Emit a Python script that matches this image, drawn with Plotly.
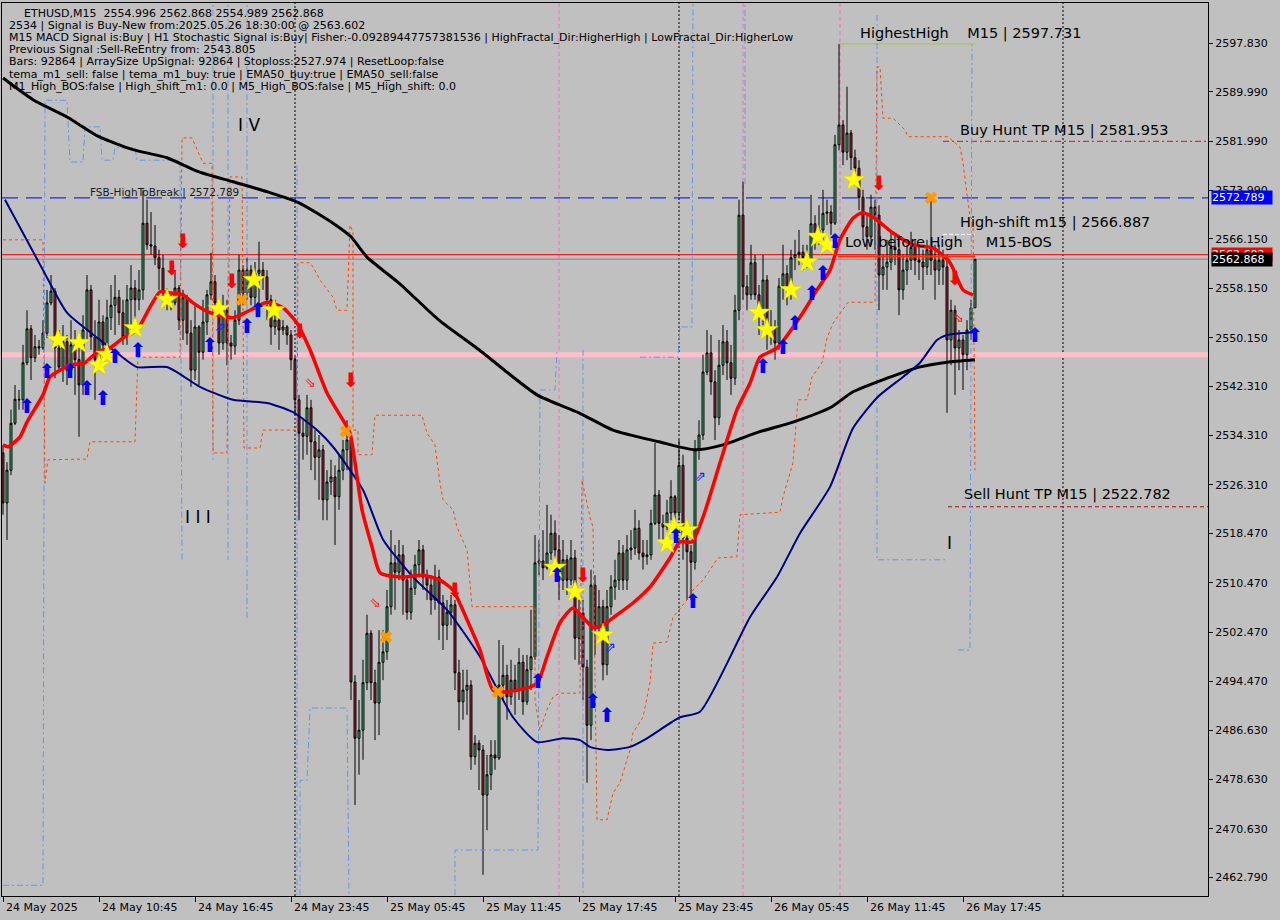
import plotly.graph_objects as go

# ---------------- data ----------------
tick_bars = [0, 24, 48, 72, 96, 120, 144, 168, 192, 216, 240]
tick_labels = ["24 May 2025", "24 May 10:45", "24 May 16:45", "24 May 23:45", "25 May 05:45",
               "25 May 11:45", "25 May 17:45", "25 May 23:45", "26 May 05:45", "26 May 11:45",
               "26 May 17:45"]
price_ticks = [2597.830, 2589.990, 2581.990, 2573.990, 2566.150, 2558.150, 2550.150, 2542.310,
               2534.310, 2526.310, 2518.470, 2510.470, 2502.470, 2494.470, 2486.630, 2478.630,
               2470.630, 2462.790]

first_open = 2531.5
close = [
    2523.4, 2528.7, 2536.3, 2540.2, 2540.1, 2546.1, 2551.6, 2546.9, 2548.7, 2548.5,
    2550.9, 2555.8, 2557.7, 2548.5, 2545.4, 2549.5, 2544.9, 2549.0, 2546.6, 2542.5,
    2551.4, 2557.9, 2550.3, 2546.6, 2552.7, 2549.0, 2553.4, 2555.4, 2556.7, 2554.2,
    2550.3, 2556.3, 2558.2, 2556.3, 2557.9, 2568.7, 2565.2, 2565.0, 2563.1, 2561.4,
    2557.4, 2556.3, 2555.8, 2558.2, 2553.0, 2556.7, 2550.9, 2544.9, 2551.9, 2547.8,
    2552.7, 2557.1, 2559.2, 2555.8, 2549.3, 2554.6, 2549.3, 2548.8, 2553.0, 2561.1,
    2557.4, 2561.1, 2556.7, 2560.6, 2561.1, 2560.0, 2556.3, 2551.9, 2553.0, 2551.4,
    2551.9, 2550.6, 2546.6, 2540.1, 2534.7, 2534.2, 2538.8, 2533.3, 2530.8, 2532.0,
    2523.9, 2526.8, 2527.6, 2524.4, 2528.7, 2532.0, 2533.6, 2494.4, 2485.3, 2486.6,
    2494.3, 2502.3, 2494.3, 2491.0, 2497.6, 2499.3, 2506.6, 2513.7, 2512.2, 2515.0,
    2510.9, 2505.7, 2509.6, 2513.4, 2515.8, 2511.4, 2510.1, 2507.7, 2511.4, 2507.2,
    2503.6, 2505.7, 2506.9, 2495.9, 2491.2, 2493.1, 2493.9, 2482.3, 2484.5, 2483.4,
    2476.1, 2479.4, 2482.6, 2482.1, 2493.9, 2495.5, 2492.0, 2494.7, 2493.1, 2497.6,
    2491.2, 2496.4, 2498.5, 2513.7, 2514.0, 2512.9, 2515.3, 2518.5, 2515.8, 2510.9,
    2514.2, 2510.9, 2514.5, 2501.5, 2505.6, 2496.8, 2487.4, 2510.1, 2503.2, 2506.6,
    2497.2, 2506.6, 2509.8, 2510.9, 2515.3, 2510.9, 2515.8, 2516.1, 2519.3, 2515.3,
    2514.7, 2515.0, 2520.1, 2524.7, 2520.1, 2519.5, 2521.8, 2524.4, 2521.8, 2529.5,
    2517.7, 2515.5, 2513.8, 2532.0, 2534.4, 2544.6, 2547.7, 2543.0, 2537.2, 2545.7,
    2549.5, 2546.1, 2543.6, 2554.6, 2570.0, 2558.4, 2557.1, 2562.3, 2557.1, 2553.4,
    2559.5, 2550.6, 2551.9, 2549.3, 2558.5, 2560.5, 2558.4, 2563.1, 2563.6, 2564.0,
    2563.1, 2562.7, 2568.6, 2566.5, 2567.6, 2570.3, 2570.5, 2568.7, 2581.4, 2584.6,
    2580.2, 2583.3, 2579.3, 2577.6, 2572.9, 2568.1, 2566.5, 2571.3, 2570.0, 2560.3,
    2561.6, 2562.4, 2564.8, 2564.4, 2557.9, 2561.1, 2562.7, 2564.8, 2562.7, 2562.4,
    2561.6, 2564.4, 2562.7, 2561.1, 2562.7, 2561.6, 2549.8, 2554.6, 2548.5, 2549.8,
    2547.4, 2551.4, 2554.996, 2562.868]
high = [
    2532.8, 2530.0, 2538.5, 2542.5, 2541.7, 2549.0, 2554.6, 2552.2, 2550.6, 2549.8,
    2553.0, 2557.9, 2560.3, 2558.2, 2551.4, 2552.2, 2550.6, 2553.0, 2551.4, 2550.6,
    2553.8, 2560.3, 2558.7, 2553.0, 2556.3, 2553.8, 2556.3, 2558.7, 2560.3, 2557.9,
    2556.3, 2558.7, 2561.9, 2559.5, 2561.1, 2574.1, 2572.5, 2570.5, 2568.4, 2564.4,
    2563.6, 2558.2, 2557.1, 2561.1, 2558.7, 2557.9, 2557.1, 2553.0, 2555.4, 2552.2,
    2556.3, 2557.9, 2563.9, 2560.3, 2556.3, 2557.1, 2556.3, 2550.6, 2554.6, 2563.6,
    2561.9, 2563.1, 2561.9, 2562.4, 2565.7, 2562.4, 2561.1, 2557.1, 2556.3, 2553.8,
    2553.0, 2552.2, 2551.4, 2547.4, 2540.9, 2536.8, 2540.9, 2540.1, 2535.2, 2534.4,
    2532.8, 2528.7, 2530.4, 2529.5, 2531.2, 2533.6, 2536.8, 2533.6, 2495.5, 2491.5,
    2498.0, 2505.3, 2502.8, 2496.4, 2502.8, 2502.8, 2509.3, 2519.0, 2516.6, 2517.4,
    2516.6, 2511.7, 2512.6, 2515.0, 2517.4, 2516.6, 2512.6, 2511.7, 2513.4, 2512.6,
    2508.5, 2507.7, 2508.5, 2507.7, 2498.0, 2496.4, 2496.4, 2494.7, 2485.8, 2485.0,
    2484.2, 2482.6, 2485.0, 2485.0, 2501.2, 2500.4, 2497.2, 2498.0, 2497.2, 2499.9,
    2498.8, 2498.8, 2506.1, 2518.2, 2517.4, 2519.0, 2523.1, 2521.5, 2520.6, 2518.2,
    2517.4, 2515.0, 2517.4, 2515.8, 2507.7, 2507.7, 2498.0, 2512.6, 2511.7, 2509.3,
    2507.7, 2509.3, 2511.7, 2514.2, 2517.4, 2516.6, 2518.2, 2519.0, 2522.3, 2520.6,
    2517.4, 2517.4, 2522.3, 2533.1, 2525.5, 2521.5, 2523.9, 2527.1, 2524.7, 2533.6,
    2531.2, 2519.0, 2516.6, 2533.6, 2536.8, 2547.4, 2551.4, 2550.6, 2544.9, 2549.8,
    2552.2, 2551.4, 2549.0, 2557.1, 2572.5, 2575.4, 2560.3, 2565.2, 2563.6, 2558.7,
    2563.6, 2560.3, 2554.6, 2553.0, 2559.8, 2565.2, 2561.9, 2564.4, 2566.0, 2567.6,
    2565.2, 2565.2, 2573.3, 2570.0, 2571.6, 2574.1, 2572.5, 2571.6, 2583.0, 2597.731,
    2585.4, 2590.8, 2583.8, 2580.6, 2578.9, 2574.1, 2570.0, 2573.3, 2572.5, 2571.6,
    2563.6, 2566.0, 2567.6, 2566.8, 2566.0, 2563.6, 2565.2, 2567.3, 2566.0, 2565.2,
    2564.4, 2566.0, 2572.8, 2565.2, 2565.2, 2564.4, 2563.6, 2556.3, 2555.4, 2551.4,
    2550.6, 2553.0, 2556.3, 2562.868]
low = [
    2521.5, 2517.4, 2527.9, 2536.0, 2538.5, 2538.5, 2545.7, 2543.3, 2546.2, 2547.4,
    2548.2, 2550.1, 2555.4, 2543.6, 2544.6, 2543.0, 2542.5, 2544.1, 2540.9, 2534.1,
    2540.9, 2549.8, 2548.2, 2540.1, 2545.7, 2546.6, 2548.2, 2551.4, 2550.6, 2552.2,
    2549.0, 2549.0, 2551.4, 2553.0, 2554.6, 2556.3, 2564.4, 2563.6, 2561.9, 2557.9,
    2555.1, 2554.6, 2554.6, 2555.4, 2551.4, 2549.8, 2549.0, 2542.2, 2543.3, 2542.5,
    2546.6, 2550.6, 2556.3, 2554.6, 2547.4, 2548.2, 2545.7, 2546.6, 2547.4, 2552.2,
    2555.4, 2556.3, 2555.4, 2554.6, 2555.4, 2557.9, 2553.0, 2549.0, 2550.6, 2548.2,
    2550.6, 2549.0, 2544.9, 2537.6, 2520.6, 2530.4, 2531.2, 2528.7, 2527.1, 2523.9,
    2520.6, 2520.6, 2524.7, 2516.6, 2522.3, 2527.1, 2528.7, 2491.5, 2474.5, 2479.4,
    2481.8, 2493.1, 2491.5, 2485.0, 2485.8, 2494.7, 2498.0, 2505.3, 2506.1, 2510.9,
    2505.3, 2504.5, 2504.5, 2508.5, 2511.7, 2509.3, 2507.7, 2505.3, 2506.1, 2501.2,
    2499.6, 2501.2, 2503.6, 2493.1, 2486.6, 2488.3, 2489.1, 2480.2, 2481.0, 2476.9,
    2463.2, 2470.4, 2476.9, 2480.2, 2481.8, 2491.5, 2488.3, 2490.7, 2489.1, 2491.5,
    2489.1, 2490.7, 2493.1, 2498.0, 2511.7, 2510.9, 2512.6, 2514.2, 2514.2, 2507.7,
    2509.3, 2508.5, 2510.1, 2498.0, 2497.2, 2491.5, 2478.1, 2485.0, 2498.8, 2501.2,
    2494.7, 2495.5, 2505.3, 2507.7, 2509.3, 2509.3, 2509.3, 2514.2, 2515.0, 2514.2,
    2512.6, 2513.4, 2514.2, 2519.8, 2517.4, 2516.6, 2519.0, 2520.6, 2519.8, 2520.6,
    2514.2, 2507.7, 2507.7, 2512.6, 2530.4, 2533.6, 2544.1, 2540.9, 2533.6, 2536.0,
    2544.1, 2543.3, 2540.9, 2542.5, 2553.0, 2556.3, 2554.6, 2556.3, 2556.3, 2550.6,
    2552.2, 2548.2, 2549.0, 2546.6, 2548.2, 2556.3, 2555.4, 2556.3, 2561.1, 2561.9,
    2561.1, 2561.4, 2561.9, 2564.4, 2565.2, 2566.0, 2568.4, 2566.8, 2568.4, 2580.5,
    2578.1, 2578.9, 2577.3, 2574.9, 2570.8, 2566.0, 2564.4, 2565.2, 2564.4, 2554.6,
    2557.9, 2557.9, 2561.1, 2561.9, 2553.8, 2556.3, 2558.7, 2561.1, 2560.3, 2559.5,
    2557.9, 2560.3, 2560.3, 2556.3, 2558.7, 2558.7, 2538.0, 2545.7, 2540.9, 2544.9,
    2541.7, 2544.9, 2549.8, 2554.989]

# moving averages (read at sample bars)
ema_slow_bar = [0, 7.5, 16, 24, 32.5, 41, 49, 57.5, 66, 74, 82.5, 87, 91, 99, 109, 119, 133.5,
                144, 152.5, 164, 173, 180, 189, 197.5, 207, 212.5, 221, 229, 236, 243]
ema_slow_val = [2592.2, 2588.7, 2585.9, 2582.7, 2580.6, 2579.3, 2577.0, 2575.4, 2573.8, 2572.0,
                2568.7, 2566.5, 2563.2, 2559.0, 2553.0, 2548.2, 2540.9, 2538.0, 2535.2, 2533.3,
                2532.0, 2532.8, 2534.9, 2536.5, 2538.9, 2541.4, 2543.6, 2545.4, 2546.2, 2546.6]
ema_mid_bar = [0.5, 10, 16, 24.25, 28.5, 33.5, 41, 49.25, 57.5, 66, 72.5, 78.5, 82.5, 90, 95,
               102.5, 111, 119.25, 127.5, 133.5, 140, 144.25, 146.75, 151, 156.75, 161, 169.25,
               174.25, 186.75, 193.5, 199.25, 206.75, 212.5, 218.75, 225, 229.25, 233.5, 236, 243]
ema_mid_val = [2572.5, 2561.1, 2554.2, 2549.8, 2547.7, 2545.4, 2545.4, 2542.2, 2540.1, 2539.6,
               2538.1, 2535.2, 2532.5, 2525.5, 2517.5, 2511.4, 2506.1, 2498.5, 2488.7, 2484.7,
               2485.3, 2485.0, 2483.9, 2483.4, 2483.9, 2485.3, 2488.7, 2489.6, 2504.9, 2511.4,
               2518.5, 2526.0, 2535.5, 2540.6, 2543.8, 2546.1, 2549.8, 2550.6, 2551.1]
tema_bar = [0, 1.25, 4.25, 6, 10, 11.75, 14.25, 16.75, 20.5, 23.5, 26.75, 30, 33.5, 36.75, 39.25,
            41.75, 45, 47.5, 51.75, 57.5, 61.75, 66, 70, 73.5, 76.75, 81, 85, 86.75, 89.75, 92.25,
            94.25, 99.25, 105, 109.25, 112.5, 116, 119.25, 122.5, 126, 131.75, 133.75, 136, 139.25,
            142.5, 145, 147.5, 150, 152.5, 157.5, 161.75, 166.75, 169.25, 172.25, 175, 179.25,
            183.5, 186.75, 189.25, 193.5, 199.25, 203.5, 206.75, 209.25, 212.5, 214.75, 217.5,
            222.5, 227.5, 232.5, 236.75, 240, 242.5]
tema_val = [2532.8, 2532.5, 2534.1, 2536.5, 2540.9, 2543.8, 2544.9, 2545.7, 2546.1, 2547.8,
            2548.5, 2550.1, 2551.4, 2555.1, 2557.6, 2557.4, 2557.1, 2555.8, 2554.2, 2553.4,
            2554.6, 2555.9, 2555.0, 2552.5, 2548.2, 2541.2, 2536.8, 2534.7, 2522.3, 2516.3,
            2512.1, 2511.4, 2511.7, 2510.9, 2509.3, 2504.5, 2499.6, 2493.1, 2492.8, 2493.6,
            2494.4, 2498.5, 2504.0, 2506.4, 2504.9, 2503.2, 2503.6, 2504.8, 2507.2, 2509.8,
            2514.5, 2517.1, 2517.1, 2521.1, 2529.9, 2538.5, 2542.8, 2547.0, 2548.5, 2553.5,
            2557.9, 2561.1, 2566.0, 2569.5, 2570.4, 2569.7, 2567.1, 2565.2, 2564.7, 2562.3,
            2557.9, 2557.1]

# stepped channel lines
band_red_bar = [0, 10, 10.5, 11.25, 21, 21.75, 33, 33.75, 44.25, 44.75, 47.25, 49.25, 50, 52.25,
                52.5, 56, 56.75, 59.75, 60.25, 64.25, 65, 73.5, 73.75, 76.75, 77.5, 79.25, 82.5,
                83.5, 86, 86.75, 87.5, 87.5, 88.75, 88.75, 92.25, 92.5, 93, 104.75, 106, 108,
                109.25, 110, 112.5, 113.5, 116, 116.75, 117.25, 133, 133, 134.25, 136, 137.5,
                139.25, 144.25, 144.75, 146.75, 147.5, 148.5, 151, 152.5, 154.25, 156.75, 157.5,
                160, 161.75, 162.5, 166, 167.5, 171, 172.5, 175, 178.75, 183.5, 184.25, 194.25,
                195, 197.5, 198.75, 201, 202.25, 204.75, 206, 207.5, 211.25, 218, 218.5, 219.25,
                220, 222.5, 225.5, 226.25, 236.25, 239.25, 240, 241, 241.75, 242.5, 243]
band_red_val = [2566.0, 2566.0, 2526.6, 2530.4, 2530.5, 2533.3, 2533.3, 2547.0, 2547.0, 2582.5,
                2582.5, 2579.4, 2578.4, 2578.4, 2531.5, 2531.5, 2576.2, 2576.2, 2532.3, 2532.3,
                2535.2, 2535.2, 2562.3, 2562.3, 2561.6, 2559.5, 2556.7, 2554.6, 2554.6, 2568.4,
                2567.3, 2535.2, 2535.2, 2531.2, 2531.2, 2533.6, 2537.6, 2537.6, 2534.7, 2532.8,
                2526.6, 2523.9, 2522.3, 2519.5, 2515.8, 2510.4, 2506.6, 2506.6, 2491.5, 2486.6,
                2489.9, 2492.0, 2492.6, 2492.6, 2527.1, 2521.1, 2519.5, 2472.1, 2472.1, 2476.4,
                2478.1, 2483.4, 2486.2, 2488.7, 2494.3, 2500.7, 2500.9, 2504.9, 2507.7, 2509.3,
                2510.9, 2514.5, 2514.7, 2521.5, 2521.9, 2524.4, 2529.9, 2540.1, 2540.1, 2543.8,
                2546.1, 2550.1, 2552.5, 2555.9, 2555.9, 2594.0, 2594.0, 2585.7, 2585.7, 2583.8,
                2582.7, 2582.7, 2581.0, 2578.4, 2573.3, 2569.7, 2569.2, 2528.7]
band_blue_bar = [0, 10, 10.5, 16, 16.75, 20, 20.5, 24.25, 24.75, 27.5, 28, 33, 33.5, 44.25, 44.75,
                 None, 52.5, 52.5, None, 56.25, 56.25, None, 61, 61, None, 73.5, 73.5, None,
                 74.25, 74.25, 76, 76.75, 86, 86.5, None, 113, 113, 133.75, 134.25, 138, 138.5,
                 None, 145, 145, None, 159.25, 168.75, 169.25, 172.25, 172.5, None, 185.5, 185.5,
                 None, 218.5, 218.5, 235.5, None, 238.75, 241.75, 242.25]
band_blue_val = [2461.5, 2461.5, 2588.6, 2588.6, 2578.6, 2578.6, 2584.3, 2584.3, 2578.9, 2578.9,
                 2580.9, 2580.9, 2578.9, 2578.9, 2514.2, None, 2605.5, 2530.4, None, 2605.5,
                 2514.2, None, 2605.5, 2504.5, None, 2578.1, 2459.9, None, 2459.9, 2478.5,
                 2478.5, 2490.2, 2490.2, 2459.9, None, 2459.9, 2467.2, 2467.2, 2541.7, 2541.7,
                 2548.2, None, 2548.2, 2459.9, None, 2547.0, 2547.0, 2551.9, 2551.9, 2605.5,
                 None, 2605.5, 2574.9, None, 2602.4, 2514.2, 2514.2, None, 2499.6, 2499.6,
                 2597.6]

# signal markers
star_bar = [13.75, 19, 24, 26, 33, 41, 54, 62.75, 67.75, 138, 143, 150, 166, 167.75, 171, 189,
            191, 197, 201, 203.75, 206, 212.75]
star_val = [2549.8, 2549.3, 2545.7, 2547.4, 2551.7, 2556.3, 2554.8, 2559.5, 2554.6, 2512.9,
            2509.0, 2502.0, 2516.9, 2519.5, 2519.0, 2554.2, 2551.4, 2557.9, 2562.4, 2566.5,
            2565.2, 2575.7]
up_bar = [6, 11, 16.75, 21, 25, 28, 33.75, 51.75, 61, 63.75, 133.75, 138.5, 147.5, 151, 168.25,
          172.5, 190, 195, 198, 202.25, 205, 208, 243]
up_val = [2538.8, 2544.4, 2544.4, 2541.7, 2540.1, 2546.9, 2547.8, 2548.7, 2551.7, 2554.3,
          2494.3, 2511.4, 2491.0, 2488.7, 2517.7, 2507.2, 2545.3, 2548.3, 2552.2, 2557.1,
          2560.3, 2565.5, 2550.3]
down_bar = [42.25, 45, 57.25, 74.25, 87, 113, 145, 219, 238]
down_val = [2561.1, 2565.5, 2559.0, 2550.9, 2543.0, 2509.0, 2511.4, 2574.9, 2559.5]
hollow_down_bar = [76.75, 93, 238.75]
hollow_down_val = [2542.7, 2507.2, 2553.3]
hollow_up_bar = [54.25, 151.75, 174.25]
hollow_up_val = [2551.6, 2499.9, 2527.6]
cross_bar = [59.75, 85.75, 95.75, 123.75, 232]
cross_val = [2556.3, 2535.0, 2501.7, 2492.8, 2572.8]

# levels
fsb_level = 2572.789
signal_level = 2563.602
bid_level = 2562.868
pink_level = 2547.4
buy_tp = 2581.953
sell_tp = 2522.782
highest_high = 2597.731
high_shift = 2566.887
low_before_high = 2563.3
separator_bars = [73, 169, 265]
pink_vline_bars = [139, 185, 209.25]

header_lines = [
    "ETHUSD,M15\u00a0\u00a02554.996 2562.868 2554.989 2562.868",
    "2534 | Signal is Buy-New from:2025.05.26 18:30:00 @ 2563.602",
    "M15 MACD Signal is:Buy | H1 Stochastic Signal is:Buy| Fisher:-0.09289447757381536 | HighFractal_Dir:HigherHigh | LowFractal_Dir:HigherLow",
    "Previous Signal :Sell-ReEntry from: 2543.805",
    "Bars: 92864 | ArraySize UpSignal: 92864 | Stoploss:2527.974 | ResetLoop:false",
    "tema_m1_sell: false | tema_m1_buy: true | EMA50_buy:true | EMA50_sell:false",
    "M1_High_BOS:false | High_shift_m1: 0.0 | M5_High_BOS:false | M5_High_shift: 0.0",
]

# ---------------- figure ----------------
W, H = 1280, 920
ML, MR, MT, MB = 2, 72, 3, 24
X_RANGE = [-0.25, 301.25]
Y_RANGE = [2459.76, 2604.35]
BG = "#c0c0c0"
FONT = "DejaVu Sans"


def pxx(x):
    return (x - ML) / (W - ML - MR)


def pxy(y):
    return (H - MB - y) / (H - MT - MB)


opens = [first_open] + close[:-1]
highs = [max(h, o, c) for h, o, c in zip(high, opens, close)]
lows = [min(l, o, c) for l, o, c in zip(low, opens, close)]
bars = list(range(len(close)))

fig = go.Figure()


def hline(y, color, width, dash="solid", x0=None, x1=None, layer="below"):
    fig.add_shape(type="line", xref="x", yref="y",
                  x0=X_RANGE[0] if x0 is None else x0, x1=X_RANGE[1] if x1 is None else x1,
                  y0=y, y1=y, line=dict(color=color, width=width, dash=dash), layer=layer)


def vline(x, color, width, dash):
    fig.add_shape(type="line", xref="x", yref="paper", x0=x, x1=x, y0=0, y1=1,
                  line=dict(color=color, width=width, dash=dash), layer="below")


hline(pink_level, "#ffc0cb", 5)
for b in separator_bars:
    vline(b, "black", 1, "2px,2px")
for b in pink_vline_bars:
    vline(b, "#ff69b4", 1, "4px,3px")
hline(fsb_level, "#0000ee", 1, "16px,8px")
hline(signal_level, "#ff0000", 1)
hline(bid_level, "#778899", 1)
hline(buy_tp, "#ff0000", 1, "6px,3px,2px,3px", x0=235)
hline(sell_tp, "#a01010", 1, "4px,3px", x0=236.25)
hline(highest_high, "#9acd32", 1, x0=209.25, x1=243)
hline(high_shift, "white", 1, "4px,2px", x0=235, x1=243)
hline(low_before_high, "#ff3000", 2, x0=208.75, x1=243, layer="above")

# stepped bands
fig.add_trace(go.Scatter(x=band_blue_bar, y=band_blue_val, mode="lines",
                         line=dict(color="#6495ed", width=1, dash="6px,3px,2px,3px"),
                         hoverinfo="skip", showlegend=False))
fig.add_trace(go.Scatter(x=band_red_bar, y=band_red_val, mode="lines",
                         line=dict(color="#ff4500", width=1, dash="3px,3px"),
                         hoverinfo="skip", showlegend=False))

# candles
fig.add_trace(go.Candlestick(
    x=bars, open=opens, high=highs, low=lows, close=close,
    increasing=dict(line=dict(color="black", width=1), fillcolor="#3cc47c"),
    decreasing=dict(line=dict(color="black", width=1), fillcolor="#b5273a"),
    whiskerwidth=0, showlegend=False, hoverinfo="skip"))

# moving averages
fig.add_trace(go.Scatter(x=ema_slow_bar, y=ema_slow_val, mode="lines",
                         line=dict(color="black", width=3, shape="spline", smoothing=0.6),
                         hoverinfo="skip", showlegend=False))
fig.add_trace(go.Scatter(x=ema_mid_bar, y=ema_mid_val, mode="lines",
                         line=dict(color="#000080", width=2, shape="spline", smoothing=0.6),
                         hoverinfo="skip", showlegend=False))
fig.add_trace(go.Scatter(x=tema_bar, y=tema_val, mode="lines",
                         line=dict(color="#ff0000", width=3.5, shape="spline", smoothing=0.6),
                         hoverinfo="skip", showlegend=False))

# markers
fig.add_trace(go.Scatter(x=cross_bar, y=cross_val, mode="markers",
                         marker=dict(symbol="x", size=11, color="#ff9a00", line=dict(width=0)),
                         hoverinfo="skip", showlegend=False))
fig.add_trace(go.Scatter(x=star_bar, y=star_val, mode="markers",
                         marker=dict(symbol="star", size=17, color="#ffff00",
                                     line=dict(width=0.5, color="#d8c800")),
                         hoverinfo="skip", showlegend=False))
fig.add_trace(go.Scatter(x=up_bar, y=up_val, mode="text", text=["\u2b06"] * len(up_bar),
                         textfont=dict(family=FONT, size=20, color="#0000ff"),
                         hoverinfo="skip", showlegend=False))
fig.add_trace(go.Scatter(x=down_bar, y=down_val, mode="text", text=["\u2b07"] * len(down_bar),
                         textfont=dict(family=FONT, size=20, color="#ff0000"),
                         hoverinfo="skip", showlegend=False))
fig.add_trace(go.Scatter(x=hollow_down_bar, y=hollow_down_val, mode="text",
                         text=["\u21d8"] * len(hollow_down_bar),
                         textfont=dict(family=FONT, size=14, color="#ff2020"),
                         hoverinfo="skip", showlegend=False))
fig.add_trace(go.Scatter(x=hollow_up_bar, y=hollow_up_val, mode="text",
                         text=["\u21d7"] * len(hollow_up_bar),
                         textfont=dict(family=FONT, size=14, color="#2020ff"),
                         hoverinfo="skip", showlegend=False))

annotations = []


def label(x, y, text, size, color="black", anchor="left", font=FONT):
    annotations.append(dict(xref="paper", yref="paper", x=pxx(x), y=pxy(y), text=text,
                            showarrow=False, xanchor=anchor, yanchor="middle",
                            font=dict(family=font, size=size, color=color)))


# header
for k, t in enumerate(header_lines):
    label(22 if k == 0 else 7, 13 + 12.2 * k, t, 11)

label(88, 192, "FSB-HighToBreak | 2572.789", 10.5, "#1a1a1a")
label(858, 33, "HighestHigh\u00a0\u00a0\u00a0\u00a0M15 | 2597.731", 14.5)
label(958, 130, "Buy Hunt TP M15 | 2581.953", 14.5)
label(958, 223, "High-shift m15 | 2566.887", 14.5)
label(843, 242, "Low before High\u00a0\u00a0\u00a0\u00a0\u00a0M15-BOS", 14.5)
label(962, 494, "Sell Hunt TP M15 | 2522.782", 14.5)
label(236, 125, "I V", 17)
label(183, 517, "I I I", 17)
label(945, 543, "I", 17)

# x tick labels (left-aligned at tick, MT4 style)
for b, t in zip(tick_bars, tick_labels):
    annotations.append(dict(xref="x", yref="paper", x=b + 0.3, y=pxy(908), text=t,
                            showarrow=False, xanchor="left", yanchor="middle",
                            font=dict(family=FONT, size=11, color="black")))

# price tags on the right axis
for val, bg in [(fsb_level, "#0000ff"), (signal_level, "#ff0000"), (bid_level, "#000000")]:
    annotations.append(dict(xref="paper", yref="y", x=pxx(1211), y=val, text=f"{val:.3f}",
                            showarrow=False, xanchor="left", yanchor="middle",
                            bgcolor=bg, width=60, height=13, align="left", borderpad=0,
                            font=dict(family=FONT, size=11, color="white")))

fig.update_layout(
    width=W, height=H,
    margin=dict(l=ML, r=MR, t=MT, b=MB, autoexpand=False),
    paper_bgcolor=BG, plot_bgcolor=BG,
    showlegend=False, hovermode=False,
    annotations=annotations,
    xaxis=dict(range=X_RANGE, showgrid=False, zeroline=False, showline=True, linecolor="black",
               linewidth=1, mirror=True, ticks="outside", ticklen=5, tickcolor="black",
               tickvals=tick_bars, showticklabels=False, rangeslider=dict(visible=False),
               fixedrange=True, automargin=False),
    yaxis=dict(range=Y_RANGE, side="right", showgrid=False, zeroline=False, showline=True,
               linecolor="black", linewidth=1, mirror=True, ticks="outside", ticklen=4,
               tickcolor="black", tickvals=price_ticks,
               ticktext=[f"{v:.3f}" for v in price_ticks], automargin=False,
               tickfont=dict(family=FONT, size=11, color="black"), fixedrange=True),
)

fig.write_html(
    "out.html",
    config={"displayModeBar": False},
    post_script="document.body.style.margin='0';document.body.style.background='#c0c0c0';",
)
